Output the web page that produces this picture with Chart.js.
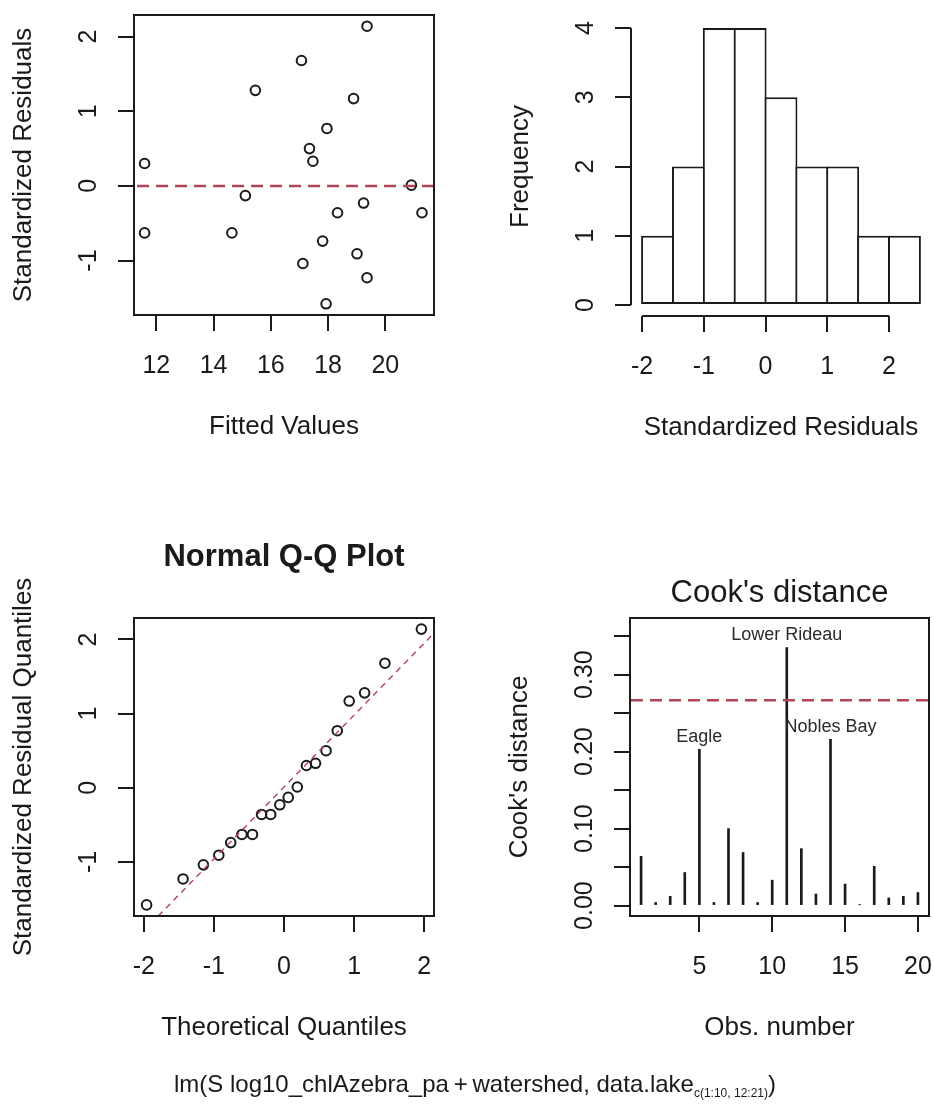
<!DOCTYPE html>
<html>
<head>
<meta charset="utf-8">
<title>Regression diagnostics</title>
<script src="https://cdn.jsdelivr.net/npm/chart.js@4/dist/chart.umd.min.js"></script>
<style>
  html, body { margin: 0; padding: 0; background: #ffffff; }
  #page { position: relative; width: 934px; height: 1111px; overflow: hidden;
          font-family: "Liberation Sans", Arial, sans-serif; }
  #page canvas { position: absolute; }
  #formula { position: absolute; left: 8px; width: 934px; top: 1070px; text-align: center;
             font-size: 24px; color: #1a1a1a; white-space: nowrap; line-height: 28px; }
  #formula sub { font-size: 12px; vertical-align: -5px; line-height: 0; }
</style>
</head>
<body>
<div id="page">
  <canvas id="pResid" width="467" height="520" style="left:0px;top:0px"></canvas>
  <canvas id="pHist"  width="467" height="520" style="left:467px;top:0px"></canvas>
  <canvas id="pQQ"    width="467" height="560" style="left:0px;top:520px"></canvas>
  <canvas id="pCook"  width="467" height="560" style="left:467px;top:520px"></canvas>
  <div id="formula">lm(S log10_chlAzebra_pa&#8201;+&#8201;watershed, data.lake<sub>c(1:10, 12:21)</sub>)</div>
</div>
<script>
// ---- model output: 20 lakes ----
const fittedValues = [11.59, 11.59, 14.64, 15.11, 15.46, 17.07, 17.12, 17.35, 17.47, 17.81,
                      17.96, 17.93, 18.33, 18.89, 19.01, 19.24, 19.36, 19.36, 20.91, 21.28];
const stdResiduals = [0.30, -0.63, -0.63, -0.13, 1.28, 1.68, -1.04, 0.50, 0.33, -0.74,
                      0.77, -1.58, -0.36, 1.17, -0.91, -0.23, 2.14, -1.23, 0.01, -0.36];

// histogram of standardized residuals
const histBreaks = [-2, -1.5, -1, -0.5, 0, 0.5, 1, 1.5, 2, 2.5];
const histCounts = [1, 2, 4, 4, 3, 2, 2, 1, 1];

// normal Q-Q
const theoreticalQuantiles = [-1.96, -1.44, -1.15, -0.93, -0.76, -0.60, -0.45, -0.32, -0.19, -0.06,
                              0.06, 0.19, 0.32, 0.45, 0.60, 0.76, 0.93, 1.15, 1.44, 1.96];
const sampleQuantiles = [-1.58, -1.23, -1.04, -0.91, -0.74, -0.63, -0.63, -0.36, -0.36, -0.23,
                         -0.13, 0.01, 0.30, 0.33, 0.50, 0.77, 1.17, 1.28, 1.68, 2.14];
const qqSlope = 0.97;
const qqIntercept = 0.01;

// Cook's distance by observation
const obsNumber = [1, 2, 3, 4, 5, 6, 7, 8, 9, 10, 11, 12, 13, 14, 15, 16, 17, 18, 19, 20];
const cooksDistance = [0.064, 0.004, 0.012, 0.043, 0.203, 0.004, 0.100, 0.069, 0.004, 0.033,
                       0.335, 0.074, 0.015, 0.216, 0.028, 0.001, 0.051, 0.010, 0.012, 0.017];
const cookCutoff = 0.2667;               // 4 / (n - k - 1)
const labelledObs = [5, 11, 14];
const labelledNames = ['Eagle', 'Lower Rideau', 'Nobles Bay'];

// axis ticks
const residXTicks = [12, 14, 16, 18, 20];
const residYTicks = [-1, 0, 1, 2];
const histXTicks = [-2, -1, 0, 1, 2];
const histYTicks = [0, 1, 2, 3, 4];
const qqXTicks = [-2, -1, 0, 1, 2];
const qqYTicks = [-1, 0, 1, 2];
const cookXTicks = [5, 10, 15, 20];
const cookYTicks = [0, 0.05, 0.10, 0.15, 0.20, 0.25, 0.30, 0.35];
const cookYTickLabels = ['0.00', '', '0.10', '', '0.20', '', '0.30', ''];

// ---- drawing ----
const INK = '#1a1a1a';
const DASH_RED = '#b0445a';
const FONT = '"Liberation Sans", Arial, sans-serif';
Chart.defaults.font.family = FONT;
Chart.defaults.animation = false;

function axis(pos, min, max, ticks, size) {
  return {
    type: 'linear', position: pos, min: min, max: max, offset: false,
    afterBuildTicks: s => { s.ticks = ticks.map(v => ({ value: v })); },
    afterFit: s => { if (pos === 'left') s.width = size; else s.height = size; },
    grid: { display: true, offset: false, drawOnChartArea: false, drawTicks: true,
            tickLength: 16, tickWidth: 2, tickColor: INK, lineWidth: 2 },
    border: { display: false },
    ticks: { display: false }
  };
}

function rotText(ctx, text, x, y) {
  ctx.save();
  ctx.translate(x, y);
  ctx.rotate(-Math.PI / 2);
  ctx.fillText(text, 0, 0);
  ctx.restore();
}

function decor(cfg) {
  return {
    id: 'decor',
    afterDraw(chart) {
      const { ctx, chartArea: a, scales: { x, y } } = chart;
      ctx.save();
      ctx.strokeStyle = INK;
      ctx.lineWidth = 2;
      if (cfg.box) ctx.strokeRect(a.left, a.top, a.right - a.left, a.bottom - a.top);
      if (cfg.axisSpan) {
        ctx.beginPath();
        ctx.moveTo(a.left, y.getPixelForValue(cfg.axisSpan.y[0]));
        ctx.lineTo(a.left, y.getPixelForValue(cfg.axisSpan.y[1]));
        ctx.moveTo(x.getPixelForValue(cfg.axisSpan.x[0]), a.bottom);
        ctx.lineTo(x.getPixelForValue(cfg.axisSpan.x[1]), a.bottom);
        ctx.stroke();
      }
      ctx.fillStyle = INK;
      ctx.textAlign = 'center';
      ctx.textBaseline = 'middle';
      ctx.font = '25px ' + FONT;
      cfg.xTicks.forEach((v, i) => ctx.fillText(cfg.xLabels[i], x.getPixelForValue(v), a.bottom + 51));
      cfg.yTicks.forEach((v, i) => {
        if (cfg.yLabels[i]) rotText(ctx, cfg.yLabels[i], a.left - 45, y.getPixelForValue(v));
      });
      ctx.font = '26px ' + FONT;
      ctx.fillText(cfg.xTitle, (a.left + a.right) / 2, a.bottom + 112);
      rotText(ctx, cfg.yTitle, a.left - 110.5, (a.top + a.bottom) / 2);
      if (cfg.main) {
        ctx.font = cfg.main.font;
        ctx.fillText(cfg.main.text, (a.left + a.right) / 2, a.top - cfg.main.gap);
      }
      if (cfg.extra) cfg.extra(chart);
      ctx.restore();
    }
  };
}

const fmt = v => String(v);
const markerStyle = { pointStyle: 'circle', pointRadius: 4.8, borderWidth: 2,
                      borderColor: INK, backgroundColor: 'rgba(0,0,0,0)' };

// 1. residuals vs fitted
new Chart(document.getElementById('pResid'), {
  type: 'scatter',
  data: {
    datasets: [
      { data: [{ x: 10, y: 0 }, { x: 23, y: 0 }], showLine: true, pointRadius: 0,
        borderColor: DASH_RED, borderWidth: 2.5, borderDash: [12, 7], order: 0 },
      Object.assign({ data: fittedValues.map((f, i) => ({ x: f, y: stdResiduals[i] })), order: 1 }, markerStyle)
    ]
  },
  options: {
    responsive: false, devicePixelRatio: 1,
    layout: { padding: { top: 15, right: 33, left: 0, bottom: 0 } },
    plugins: { legend: { display: false }, tooltip: { enabled: false } },
    scales: {
      x: axis('bottom', 11.22, 21.70, residXTicks, 205),
      y: axis('left', -1.73, 2.29, residYTicks, 134)
    }
  },
  plugins: [decor({ box: true, xTicks: residXTicks, xLabels: residXTicks.map(fmt),
    yTicks: residYTicks, yLabels: residYTicks.map(fmt),
    xTitle: 'Fitted Values', yTitle: 'Standardized Residuals' })]
});

// 2. histogram of residuals
const binCentres = histCounts.map((c, i) => (histBreaks[i] + histBreaks[i + 1]) / 2);
new Chart(document.getElementById('pHist'), {
  type: 'bar',
  data: {
    datasets: [{
      data: histCounts.map((c, i) => ({ x: binCentres[i], y: c })),
      backgroundColor: '#ffffff', borderColor: INK, borderWidth: 2, borderSkipped: false,
      barPercentage: 1.065, categoryPercentage: 1, inflateAmount: 0
    }]
  },
  options: {
    responsive: false, devicePixelRatio: 1,
    layout: { padding: { top: 17, right: 3, left: 0, bottom: 0 } },
    plugins: { legend: { display: false }, tooltip: { enabled: false } },
    scales: {
      x: axis('bottom', -2.18, 2.68, histXTicks, 204),
      y: axis('left', -0.16, 4.16, histYTicks, 164)
    }
  },
  plugins: [decor({ axisSpan: { x: [-2, 2], y: [0, 4] },
    xTicks: histXTicks, xLabels: histXTicks.map(fmt),
    yTicks: histYTicks, yLabels: histYTicks.map(fmt),
    xTitle: 'Standardized Residuals', yTitle: 'Frequency' })]
});

// 3. normal Q-Q plot
new Chart(document.getElementById('pQQ'), {
  type: 'scatter',
  data: {
    datasets: [
      { data: [-3, 3].map(t => ({ x: t, y: qqIntercept + qqSlope * t })), showLine: true, pointRadius: 0,
        borderColor: DASH_RED, borderWidth: 1.4, borderDash: [6, 5], order: 0 },
      Object.assign({ data: theoreticalQuantiles.map((q, i) => ({ x: q, y: sampleQuantiles[i] })), order: 1 }, markerStyle)
    ]
  },
  options: {
    responsive: false, devicePixelRatio: 1,
    layout: { padding: { top: 98, right: 33, left: 0, bottom: 0 } },
    plugins: { legend: { display: false }, tooltip: { enabled: false } },
    scales: {
      x: axis('bottom', -2.14, 2.14, qqXTicks, 164),
      y: axis('left', -1.73, 2.29, qqYTicks, 134)
    }
  },
  plugins: [decor({ box: true, xTicks: qqXTicks, xLabels: qqXTicks.map(fmt),
    yTicks: qqYTicks, yLabels: qqYTicks.map(fmt),
    xTitle: 'Theoretical Quantiles', yTitle: 'Standardized Residual Quantiles',
    main: { text: 'Normal Q-Q Plot', font: 'bold 31px ' + FONT, gap: 61 } })]
});

// 4. Cook's distance
new Chart(document.getElementById('pCook'), {
  type: 'bar',
  data: {
    datasets: [
      { type: 'line', data: [{ x: -1, y: cookCutoff }, { x: 22, y: cookCutoff }], pointRadius: 0,
        borderColor: DASH_RED, borderWidth: 2.5, borderDash: [12, 7], order: 0 },
      { data: obsNumber.map((n, i) => ({ x: n, y: cooksDistance[i] })),
        backgroundColor: INK, borderWidth: 0, barThickness: 2, order: 1 }
    ]
  },
  options: {
    responsive: false, devicePixelRatio: 1,
    layout: { padding: { top: 98, right: 5, left: 0, bottom: 0 } },
    plugins: { legend: { display: false }, tooltip: { enabled: false } },
    scales: {
      x: axis('bottom', 0.24, 20.76, cookXTicks, 164),
      y: axis('left', -0.0135, 0.3735, cookYTicks, 163)
    }
  },
  plugins: [decor({ box: true, xTicks: cookXTicks, xLabels: cookXTicks.map(fmt),
    yTicks: cookYTicks, yLabels: cookYTickLabels,
    xTitle: 'Obs. number', yTitle: "Cook's distance",
    main: { text: "Cook's distance", font: '31px ' + FONT, gap: 24.7 },
    extra(chart) {
      const { ctx, scales: { x, y } } = chart;
      ctx.font = '18px ' + FONT;
      ctx.fillStyle = '#2a2a2a';
      labelledObs.forEach((n, i) => {
        ctx.fillText(labelledNames[i], x.getPixelForValue(n), y.getPixelForValue(cooksDistance[n - 1]) - 12.5);
      });
    } })]
});
</script>
</body>
</html>
